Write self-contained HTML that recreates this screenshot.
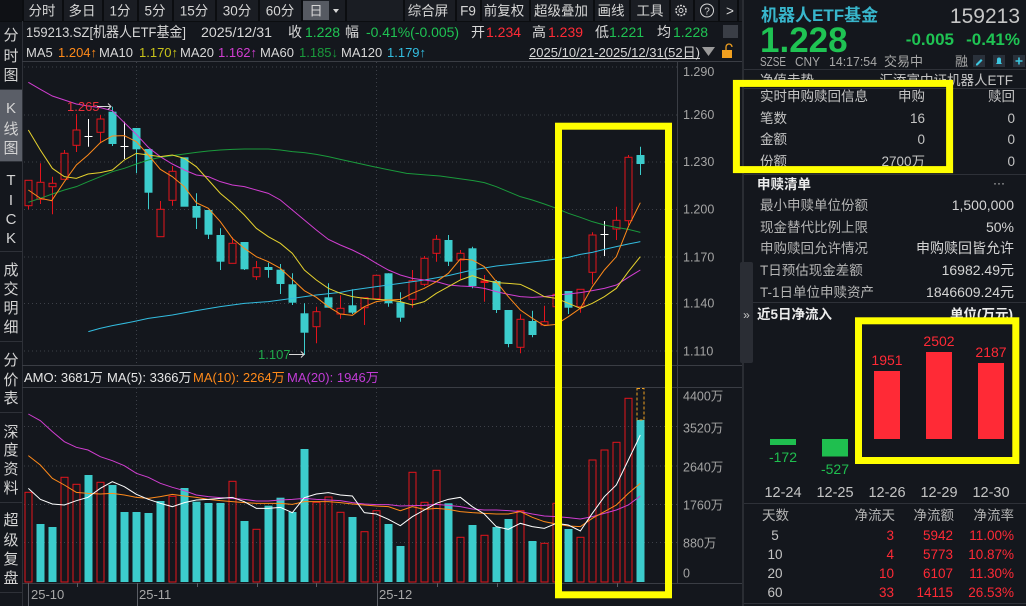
<!DOCTYPE html>
<html><head><meta charset="utf-8">
<style>
html,body{margin:0;padding:0;background:#14171d;width:1026px;height:606px;overflow:hidden}
svg{display:block}
text{font-family:"Liberation Sans","Noto Sans CJK SC",sans-serif;}
</style></head><body>
<svg width="1026" height="606" viewBox="0 0 1026 606" xmlns="http://www.w3.org/2000/svg">
<rect width="1026" height="606" fill="#14171d"/>

<!-- ===== Toolbar ===== -->
<rect x="0" y="0" width="742" height="21" fill="#1a1d23"/>
<rect x="0" y="0" width="22" height="21" fill="#0f1115"/>
<g fill="#0b0d10">
<rect x="22" y="0" width="2" height="21"/><rect x="62" y="0" width="2" height="21"/><rect x="102" y="0" width="2" height="21"/>
<rect x="137" y="0" width="2" height="21"/><rect x="172" y="0" width="2" height="21"/><rect x="215" y="0" width="2" height="21"/>
<rect x="258" y="0" width="2" height="21"/><rect x="301" y="0" width="2" height="21"/><rect x="345" y="0" width="2" height="21"/>
<rect x="403" y="0" width="2" height="21"/><rect x="455" y="0" width="2" height="21"/><rect x="480" y="0" width="2" height="21"/>
<rect x="529" y="0" width="2" height="21"/><rect x="593" y="0" width="2" height="21"/><rect x="629" y="0" width="2" height="21"/>
<rect x="669" y="0" width="2" height="21"/><rect x="693" y="0" width="2" height="21"/><rect x="718" y="0" width="2" height="21"/>
<rect x="737" y="0" width="2" height="21"/>
</g>
<rect x="303" y="1" width="26" height="19" fill="#565a62"/>
<rect x="0" y="21" width="742" height="1" fill="#0b0d10"/>
<g font-size="13.5" fill="#d6d6d6" text-anchor="middle">
<text x="42" y="15.5">分时</text><text x="82" y="15.5">多日</text><text x="120" y="15.5">1分</text>
<text x="155" y="15.5">5分</text><text x="194" y="15.5">15分</text><text x="237" y="15.5">30分</text>
<text x="280" y="15.5">60分</text><text x="316" y="15.5">日</text>
<text x="428" y="15.5">综合屏</text><text x="468" y="15.5">F9</text><text x="504" y="15.5">前复权</text>
<text x="561" y="15.5">超级叠加</text><text x="611" y="15.5">画线</text><text x="650" y="15.5">工具</text>
<text x="730" y="15.5">&gt;</text>
</g>
<path d="M333 9h6l-3 4z" fill="#d6d6d6"/>
<circle cx="681" cy="10.5" r="5" fill="none" stroke="#d6d6d6" stroke-width="1.5" stroke-dasharray="2 1.2"/>
<circle cx="681" cy="10.5" r="2" fill="none" stroke="#d6d6d6" stroke-width="1"/>
<circle cx="707" cy="10.5" r="6.5" fill="none" stroke="#d6d6d6" stroke-width="1"/>
<text x="707" y="14.5" font-size="10" fill="#d6d6d6" text-anchor="middle">?</text>

<!-- ===== Left sidebar ===== -->
<rect x="22" y="21" width="1" height="585" fill="#2e3138"/>
<rect x="0" y="90" width="22" height="71" fill="#5a5e67"/>
<g fill="#2e3138">
<rect x="0" y="89" width="22" height="1"/><rect x="0" y="161" width="22" height="1"/>
<rect x="0" y="251" width="22" height="1"/><rect x="0" y="341" width="22" height="1"/>
<rect x="0" y="412" width="22" height="1"/><rect x="0" y="502" width="22" height="1"/>
<rect x="0" y="592" width="22" height="1"/>
</g>
<g font-size="15" fill="#d4d4d4" text-anchor="middle">
<text x="11" y="40">分</text><text x="11" y="61">时</text><text x="11" y="80">图</text>
<text x="11" y="113">K</text><text x="11" y="134">线</text><text x="11" y="153">图</text>
<text x="11" y="185">T</text><text x="11" y="205">I</text><text x="11" y="224">C</text><text x="11" y="243">K</text>
<text x="11" y="275">成</text><text x="11" y="294">交</text><text x="11" y="313">明</text><text x="11" y="332">细</text>
<text x="11" y="365">分</text><text x="11" y="385">价</text><text x="11" y="403">表</text>
<text x="11" y="437">深</text><text x="11" y="455">度</text><text x="11" y="474">资</text><text x="11" y="493">料</text>
<text x="11" y="525">超</text><text x="11" y="545">级</text><text x="11" y="564">复</text><text x="11" y="583">盘</text>
</g>

<!-- ===== Info line ===== -->
<g font-size="14" fill="#d8d8d8">
<text x="26" y="37" textLength="160" lengthAdjust="spacingAndGlyphs">159213.SZ[机器人ETF基金]</text>
<text x="201" y="37" textLength="71" lengthAdjust="spacingAndGlyphs">2025/12/31</text>
<text x="288" y="37">收</text><text x="305" y="37" fill="#1fc353">1.228</text>
<text x="345" y="37">幅</text><text x="366" y="37" fill="#1fc353" textLength="93" lengthAdjust="spacingAndGlyphs">-0.41%(-0.005)</text>
<text x="471" y="37">开</text><text x="486" y="37" fill="#ff2b36">1.234</text>
<text x="532" y="37">高</text><text x="548" y="37" fill="#ff2b36">1.239</text>
<text x="595" y="37">低</text><text x="609" y="37" fill="#1fc353">1.221</text>
<text x="657" y="37">均</text><text x="673" y="37" fill="#1fc353">1.228</text>
</g>
<rect x="723" y="25" width="15" height="13" fill="#3a3e46"/>
<!-- MA line -->
<g font-size="13" fill="#d8d8d8">
<text x="26" y="57">MA5</text><text x="58" y="57" fill="#ff8a1a">1.204↑</text>
<text x="99" y="57">MA10</text><text x="139" y="57" fill="#c8c21a">1.170↑</text>
<text x="180" y="57">MA20</text><text x="218" y="57" fill="#d13ed1">1.162↑</text>
<text x="260" y="57">MA60</text><text x="299" y="57" fill="#1a9a3c">1.185↓</text>
<text x="341" y="57">MA120</text><text x="387" y="57" fill="#33bde0">1.179↑</text>
<text x="529" y="57" textLength="171" lengthAdjust="spacingAndGlyphs">2025/10/21-2025/12/31(52日)</text>
</g>
<rect x="529" y="58" width="171" height="1" fill="#d8d8d8"/>
<path d="M702 47h13l-6.5 9z" fill="#9a9a9a"/>
<rect x="722" y="50" width="10" height="8" fill="#f0a020"/>
<path d="M726 50v-3a3 3 0 0 1 6 0" fill="none" stroke="#f0a020" stroke-width="1.3"/>

<!-- ===== Chart frame ===== -->
<g fill="#3a3d44">
<rect x="22" y="61" width="721" height="1"/>
<rect x="22" y="365" width="721" height="1"/>
<rect x="22" y="387" width="721" height="1"/>
<rect x="22" y="583" width="721" height="1"/>
<rect x="677" y="61" width="1" height="522"/>
<rect x="742" y="0" width="2" height="606" fill="#2a2d33"/>
</g>
<!-- grid -->
<g stroke="#3d4048" stroke-width="1" stroke-dasharray="1 3">
<path d="M24 67H677M24 115H677M24 162H677M24 209.5H677M24 257H677M24 303.5H677M24 351H677"/>
<path d="M24 426.5H677M24 466H677M24 504.5H677M24 542.5H677"/>
<path d="M136.5 62V365M376.5 62V365M136.5 388V582M376.5 388V582"/>
</g>
<!-- price labels -->
<g font-size="12.5" fill="#a4a4a4">
<text x="683" y="76">1.290</text><text x="683" y="119">1.260</text><text x="683" y="166">1.230</text>
<text x="683" y="213.5">1.200</text><text x="683" y="261.5">1.170</text><text x="683" y="307.5">1.140</text>
<text x="683" y="355.5">1.110</text>
<text x="683" y="400.5">4400万</text><text x="683" y="432.5">3520万</text><text x="683" y="471.5">2640万</text>
<text x="683" y="509.5">1760万</text><text x="683" y="547.5">880万</text><text x="683" y="577.5">0</text>
</g>
<!-- x axis -->
<g stroke="#5a5d64" stroke-width="1">
<path d="M28.5 583V606M137.5 583V606M377.5 583V606M77.5 583V587M197.5 583V587M257.5 583V587M316.5 583V587M437.5 583V587M497.5 583V587M557.5 583V587M617.5 583V587"/>
</g>
<g font-size="13" fill="#a8a8a8">
<text x="31" y="599">25-10</text><text x="139" y="599">25-11</text><text x="379" y="599">25-12</text>
</g>

<!-- ===== Candles ===== -->
<g fill="#3ccccc">
<rect x="108.5" y="111.7" width="8" height="32.3"/><rect x="132.5" y="128" width="8" height="21.3"/>
<rect x="144.5" y="149" width="8" height="43.7"/><rect x="180.5" y="157.3" width="8" height="49.4"/>
<rect x="192.5" y="206" width="8" height="11.7"/><rect x="204.5" y="210" width="8" height="24.7"/>
<rect x="216.5" y="235" width="8" height="26.7"/><rect x="240.5" y="242" width="8" height="27.3"/>
<rect x="264.5" y="267" width="8" height="3"/><rect x="276.5" y="269.7" width="8" height="14.3"/>
<rect x="288.5" y="284.3" width="8" height="18.4"/><rect x="300.5" y="313.3" width="8" height="19.4"/>
<rect x="324.5" y="297.3" width="8" height="10.4"/><rect x="348.5" y="305.3" width="8" height="7.4"/>
<rect x="384.5" y="273.3" width="8" height="30"/><rect x="396.5" y="302.3" width="8" height="15.4"/>
<rect x="444.5" y="240" width="8" height="21.7"/><rect x="468.5" y="248.3" width="8" height="37.7"/>
<rect x="492.5" y="281" width="8" height="29"/><rect x="504.5" y="310" width="8" height="34"/>
<rect x="528.5" y="321" width="8" height="14"/><rect x="564.5" y="291" width="8" height="16.7"/>
<rect x="636.5" y="155" width="8" height="9"/>
</g>
<path stroke="#3ccccc" stroke-width="1" fill="none" d="M112.5 106.7V146M136.5 128V173.3M148.5 149V209M196.5 193.3V229M208.5 210V239M220.5 228.3V270M244.5 242V270M268.5 262.7V277.7M280.5 264V294M292.5 273.3V305M304.5 303.3V355M328.5 283.3V307.7M352.5 289.3V314M388.5 273.3V306.7M400.5 292.3V321.7M448.5 235V266M472.5 246.7V288.3M496.5 280V313M508.5 310V347.3M532.5 310.7V337.3M568.5 291V314M640.5 146.7V175"/>
<g fill="#14171d" stroke="#e3141c" stroke-width="1">
<rect x="25" y="180.3" width="7" height="25.4"/><rect x="37" y="182.3" width="7" height="17"/>
<rect x="49" y="183.3" width="7" height="3.4"/><rect x="61" y="153.3" width="7" height="26"/>
<rect x="73" y="130" width="7" height="15.3"/><rect x="97" y="119" width="7" height="13.3"/>
<rect x="157" y="209.3" width="7" height="27.4"/><rect x="169" y="171.3" width="7" height="29"/>
<rect x="229" y="243.3" width="7" height="20"/><rect x="253" y="267.7" width="7" height="9"/>
<rect x="313" y="311.7" width="7" height="15"/><rect x="337" y="308.3" width="7" height="5.7"/>
<rect x="361" y="297.7" width="7" height="10"/><rect x="373" y="275.3" width="7" height="23.4"/>
<rect x="409" y="280.7" width="7" height="18.6"/><rect x="421" y="258.3" width="7" height="26"/>
<rect x="433" y="239.3" width="7" height="14"/><rect x="457" y="253.3" width="7" height="6.7"/>
<rect x="517" y="319.3" width="7" height="28"/><rect x="541" y="321.7" width="7" height="3.3"/>
<rect x="553" y="294.3" width="7" height="12.4"/><rect x="577" y="289.3" width="7" height="17.4"/>
<rect x="589" y="235" width="7" height="37.3"/><rect x="613" y="220.3" width="7" height="8.7"/>
<rect x="625" y="157.3" width="7" height="63.4"/>
<path fill="none" d="M28.5 205.7V209.3M40.5 163.3V182.3M40.5 199.3V204M52.5 176.7V183.3M52.5 186.7V214.3M64.5 150V153.3M76.5 114V130M76.5 145.3V152M100.5 115V119M100.5 132.3V143.3M160.5 201V209.3M172.5 166V171.3M172.5 200.3V205.7M232.5 237.3V243.3M256.5 261V267.7M256.5 276.7V280M316.5 306.7V311.7M316.5 326.7V343.3M340.5 295.3V308.3M340.5 314V318.7M364.5 307.7V325M412.5 270V280.7M412.5 299.3V307.7M424.5 256V258.3M424.5 284.3V286M436.5 235V239.3M436.5 253.3V261.7M460.5 250V253.3M460.5 260V279.3M520.5 314.3V319.3M520.5 347.3V353.3M544.5 305.7V321.7M580.5 306.7V312.7M592.5 232.3V235M592.5 272.3V284.3M616.5 206.7V220.3M616.5 229V240M628.5 155V157.3M628.5 220.7V225M484.5 275V301.7"/>
</g>
<rect x="480.5" y="280.5" width="8" height="2.5" fill="#e3141c"/>
<path stroke="#ffffff" stroke-width="1" fill="none" d="M88.5 119V146.7M84.5 136.5H92.5M124.5 121.7V159M120.5 146.5H128.5M604.5 221V256M600.5 234.5H608.5"/>

<!-- MA lines in price pane (zoom frame) -->
<g transform="translate(0,40) scale(0.333333)" fill="none" stroke-width="1">
<path vector-effect="non-scaling-stroke" stroke="#1a9a3c" d="M85,487 L121,475 L157,462 L193,450 L229,440 L264,425 L301,410 L337,395 L373,385 L409,372 L445,360 L481,352 L517,347 L553,342 L589,337 L625,333 L661,330 L697,328 L733,327 L769,327 L805,327 L841,330 L877,335 L913,338 L949,343 L985,350 L1021,358 L1057,366 L1120,380 L1220,400 L1280,405 L1320,408 L1420,422 L1453,428 L1489,440 L1525,455 L1561,470 L1597,480 L1633,492 L1669,505 L1705,520 L1741,532 L1777,545 L1813,555 L1849,562 L1885,568 L1921,577"/>
<path vector-effect="non-scaling-stroke" stroke="#33bde0" d="M265,875 L300,865 L337,857 L400,845 L445,835 L517,825 L589,812 L661,800 L733,790 L805,785 L877,775 L949,765 L1021,757 L1057,750 L1129,740 L1201,730 L1273,720 L1345,707 L1417,690 L1489,678 L1561,670 L1633,662 L1705,652 L1741,643 L1777,637 L1813,628 L1849,620 L1885,612 L1921,605"/>
<path vector-effect="non-scaling-stroke" stroke="#d13ed1" d="M85,127 L121,148 L157,168 L193,180 L229,192 L264,198 L301,203 L337,212 L373,248 L409,283 L445,322 L481,350 L517,372 L553,390 L589,405 L625,410 L661,425 L697,435 L733,440 L769,450 L805,460 L841,480 L877,510 L913,540 L949,570 L985,598 L1021,615 L1057,630 L1093,648 L1129,670 L1165,690 L1201,705 L1237,715 L1273,720 L1309,725 L1345,735 L1381,738 L1417,740 L1453,745 L1489,755 L1525,763 L1561,770 L1597,772 L1633,770 L1669,765 L1705,762 L1741,758 L1777,752 L1813,745 L1849,735 L1885,712 L1921,690"/>
<path vector-effect="non-scaling-stroke" stroke="#e6d22e" d="M85,270 L121,330 L157,385 L193,410 L229,415 L264,402 L301,398 L337,390 L373,360 L409,340 L445,345 L481,350 L517,345 L553,355 L589,380 L625,420 L661,460 L697,490 L733,525 L769,565 L805,590 L841,610 L877,640 L913,690 L949,720 L985,745 L1021,760 L1057,770 L1093,775 L1129,778 L1165,780 L1201,785 L1237,795 L1273,785 L1309,760 L1345,740 L1381,720 L1417,707 L1453,720 L1489,728 L1525,730 L1561,733 L1597,750 L1633,770 L1669,775 L1705,790 L1741,805 L1777,790 L1813,770 L1849,745 L1885,695 L1921,650"/>
<path vector-effect="non-scaling-stroke" stroke="#ff8a1a" d="M85,450 L121,475 L155,482 L193,425 L229,375 L264,345 L301,308 L337,288 L373,287 L409,305 L445,345 L481,388 L517,410 L553,440 L589,488 L625,505 L661,545 L697,595 L733,625 L769,650 L805,665 L841,685 L877,718 L913,752 L949,772 L985,800 L1021,822 L1057,826 L1093,800 L1129,785 L1165,780 L1201,778 L1237,760 L1273,745 L1309,725 L1345,700 L1381,657 L1417,660 L1453,680 L1489,725 L1525,770 L1561,810 L1597,835 L1633,857 L1669,853 L1705,830 L1741,805 L1777,740 L1813,690 L1849,650 L1885,560 L1921,488"/>
</g>
<!-- hi/lo marks -->
<text x="67" y="111" font-size="13" fill="#e8303a">1.265</text>
<path d="M97 106.5H111M108 103.5L111 106.5L108 109.5" stroke="#d8d8d8" fill="none" stroke-width="1"/>
<text x="258" y="359" font-size="13" fill="#1fa84a">1.107</text>
<path d="M289 354.5H304M301 351.5L304 354.5L301 357.5" stroke="#d8d8d8" fill="none" stroke-width="1"/>

<!-- ===== Volume ===== -->
<g font-size="13" fill="#e6e6e6">
<text x="24" y="382">AMO: 3681万</text><text x="107" y="382">MA(5): 3366万</text>
<text x="193" y="382" fill="#ff8a1a">MA(10): 2264万</text><text x="287" y="382" fill="#c23cd6">MA(20): 1946万</text>
</g>
<g fill="#3ccccc">
<rect x="36.5" y="524" width="8" height="58"/><rect x="48.5" y="527" width="8" height="55"/>
<rect x="84.5" y="475" width="8" height="107"/><rect x="108.5" y="485" width="8" height="97"/>
<rect x="120.5" y="512" width="8" height="70"/><rect x="132.5" y="512" width="8" height="70"/>
<rect x="144.5" y="513" width="8" height="69"/><rect x="156.5" y="501" width="8" height="81"/>
<rect x="180.5" y="488" width="8" height="94"/><rect x="192.5" y="501.7" width="8" height="80.3"/>
<rect x="204.5" y="503" width="8" height="79"/><rect x="216.5" y="503" width="8" height="79"/>
<rect x="240.5" y="521" width="8" height="61"/><rect x="264.5" y="505.7" width="8" height="76.3"/>
<rect x="276.5" y="497.7" width="8" height="84.3"/><rect x="288.5" y="512" width="8" height="70"/>
<rect x="300.5" y="449" width="8" height="133"/><rect x="348.5" y="517" width="8" height="65"/>
<rect x="384.5" y="524" width="8" height="58"/><rect x="396.5" y="546" width="8" height="36"/>
<rect x="444.5" y="503.3" width="8" height="78.7"/><rect x="468.5" y="525" width="8" height="57"/>
<rect x="492.5" y="527" width="8" height="55"/><rect x="504.5" y="519" width="8" height="63"/>
<rect x="528.5" y="541" width="8" height="41"/><rect x="564.5" y="529" width="8" height="53"/>
<rect x="636.5" y="420" width="8" height="162"/>
</g>
<g fill="none" stroke="#e3141c" stroke-width="1">
<rect x="25" y="492.3" width="7" height="89.7"/><rect x="61" y="477.3" width="7" height="104.7"/>
<rect x="73" y="484.3" width="7" height="97.7"/><rect x="97" y="482.3" width="7" height="99.7"/>
<rect x="169" y="496.3" width="7" height="85.7"/><rect x="229" y="481.3" width="7" height="100.7"/>
<rect x="253" y="529.3" width="7" height="52.7"/><rect x="313" y="502.3" width="7" height="79.7"/>
<rect x="325" y="497" width="7" height="85"/><rect x="337" y="512.3" width="7" height="69.7"/>
<rect x="361" y="531.7" width="7" height="50.3"/><rect x="373" y="510.7" width="7" height="71.3"/>
<rect x="409" y="472.3" width="7" height="109.7"/><rect x="421" y="502.3" width="7" height="79.7"/>
<rect x="433" y="470.3" width="7" height="111.7"/><rect x="457" y="537.3" width="7" height="44.7"/>
<rect x="481" y="535.3" width="7" height="46.7"/><rect x="517" y="510.7" width="7" height="71.3"/>
<rect x="541" y="543.3" width="7" height="38.7"/><rect x="553" y="503.3" width="7" height="78.7"/>
<rect x="577" y="537.3" width="7" height="44.7"/><rect x="589" y="460" width="7" height="122"/>
<rect x="601" y="450" width="7" height="132"/><rect x="613" y="442.3" width="7" height="139.7"/>
<rect x="625" y="398.3" width="7" height="183.7"/>
</g>
<rect x="637" y="388.5" width="7" height="31.5" fill="none" stroke="#f0a020" stroke-width="1" stroke-dasharray="3 2"/>
<g transform="translate(0,360) scale(0.333333)" fill="none">
<path vector-effect="non-scaling-stroke" stroke="#d13ed1" stroke-width="1" d="M85,162 L121,182 L157,215 L193,245 L229,262 L264,270 L301,290 L337,302 L373,317 L409,340 L445,352 L481,370 L517,382 L553,392 L589,405 L625,410 L661,413 L697,415 L733,418 L769,423 L805,423 L841,420 L877,418 L913,415 L949,418 L985,420 L1021,422 L1057,428 L1093,432 L1129,434 L1165,434 L1201,438 L1237,437 L1273,436 L1309,433 L1345,436 L1381,440 L1417,447 L1453,450 L1489,450 L1525,452 L1561,455 L1597,462 L1633,468 L1669,470 L1705,473 L1741,477 L1777,470 L1813,460 L1849,450 L1885,435 L1921,408"/>
<path vector-effect="non-scaling-stroke" stroke="#ff8a1a" stroke-width="1" d="M85,287 L121,315 L157,355 L193,375 L229,397 L264,400 L301,402 L337,400 L373,405 L409,412 L445,415 L481,410 L517,403 L553,408 L589,412 L625,418 L661,422 L697,425 L733,428 L769,430 L805,430 L841,430 L877,433 L913,425 L949,425 L985,425 L1021,428 L1057,432 L1093,435 L1129,438 L1165,440 L1201,452 L1237,440 L1273,448 L1309,445 L1345,448 L1381,455 L1417,458 L1453,460 L1489,462 L1525,462 L1561,455 L1597,472 L1633,485 L1669,492 L1705,498 L1741,500 L1777,475 L1813,455 L1849,435 L1885,400 L1921,370"/>
<path vector-effect="non-scaling-stroke" stroke="#ffffff" stroke-width="1" d="M85,385 L121,418 L157,432 L193,435 L229,422 L264,412 L301,385 L337,365 L373,380 L409,403 L445,418 L481,430 L517,440 L553,428 L589,420 L625,418 L661,415 L697,412 L733,425 L769,445 L805,445 L841,442 L877,458 L913,413 L949,402 L985,398 L1021,405 L1057,408 L1093,458 L1129,462 L1165,478 L1201,497 L1237,470 L1273,450 L1309,430 L1345,418 L1381,412 L1417,440 L1453,462 L1489,500 L1525,508 L1561,490 L1597,500 L1633,505 L1669,490 L1705,495 L1741,513 L1777,460 L1813,410 L1849,375 L1885,300 L1921,225"/>
</g>

<!-- ===== Right panel ===== -->
<text x="761" y="21" font-size="17" font-weight="bold" fill="#38b6cc">机器人ETF基金</text>
<text x="1020" y="23" font-size="21" fill="#c6c6c6" text-anchor="end">159213</text>
<text x="760" y="52" font-size="35" font-weight="bold" fill="#1fc353">1.228</text>
<text x="954" y="45" font-size="17" font-weight="bold" fill="#1fc353" text-anchor="end">-0.005</text>
<text x="1020" y="45" font-size="17" font-weight="bold" fill="#1fc353" text-anchor="end">-0.41%</text>
<g font-size="13" fill="#a8a8a8">
<text x="760" y="66" textLength="26" lengthAdjust="spacingAndGlyphs">SZSE</text>
<text x="795" y="66" textLength="25" lengthAdjust="spacingAndGlyphs">CNY</text>
<text x="829" y="66" textLength="48" lengthAdjust="spacingAndGlyphs">14:17:54</text>
<text x="884" y="66">交易中</text>
<text x="955" y="66">融</text>
</g>
<rect x="973" y="55" width="12" height="12" fill="#2a313b"/>
<path d="M976 64l5-5 1.5 1.5-5 5h-1.5z" fill="#3cc7e0"/>
<rect x="993" y="55" width="12" height="12" fill="#2a313b"/>
<path d="M996 64h6l-1-1.5v-3a2 2 0 0 0-4 0v3z" fill="#3cc7e0"/>
<rect x="1013" y="55" width="12" height="12" fill="#2a313b"/>
<path d="M1019 57.5v7M1015.5 61h7" stroke="#3cc7e0" stroke-width="1.6"/>
<g fill="#2e3138">
<rect x="744" y="69" width="282" height="1"/>
<rect x="744" y="88" width="282" height="1"/>
<rect x="744" y="174" width="282" height="1"/>
<rect x="744" y="302" width="282" height="1"/>
<rect x="744" y="503" width="282" height="1"/>
<rect x="744" y="603" width="282" height="1"/>
</g>
<g font-size="13.5" fill="#c4c4c4">
<text x="760" y="85">净值走势</text><text x="1013" y="85" text-anchor="end">汇添富中证机器人ETF</text>
<text x="760" y="101">实时申购赎回信息</text><text x="925" y="101" text-anchor="end">申购</text><text x="1015" y="101" text-anchor="end">赎回</text>
<text x="760" y="123">笔数</text><text x="925" y="123" text-anchor="end">16</text><text x="1015" y="123" text-anchor="end">0</text>
<text x="760" y="144">金额</text><text x="925" y="144" text-anchor="end">0</text><text x="1015" y="144" text-anchor="end">0</text>
<text x="760" y="166">份额</text><text x="925" y="166" text-anchor="end">2700万</text><text x="1015" y="166" text-anchor="end">0</text>
</g>
<text x="757" y="189" font-size="13.5" font-weight="bold" fill="#ececec">申赎清单</text>
<text x="1005" y="187" font-size="12" fill="#d0d0d0" text-anchor="end">···</text>
<g font-size="13.5" fill="#b4b4b4">
<text x="760" y="210">最小申赎单位份额</text><text x="760" y="232">现金替代比例上限</text>
<text x="760" y="253">申购赎回允许情况</text><text x="760" y="275">T日预估现金差额</text>
<text x="760" y="297">T-1日单位申赎资产</text>
</g>
<g font-size="14" fill="#d4d4d4" text-anchor="end">
<text x="1014" y="210">1,500,000</text><text x="1014" y="232">50%</text>
<text x="1014" y="253">申购赎回皆允许</text><text x="1014" y="275">16982.49元</text>
<text x="1014" y="297">1846609.24元</text>
</g>
<rect x="740" y="262" width="13" height="101" rx="2" fill="#2a2d34"/>
<text x="746.5" y="319" font-size="12" fill="#c8c8c8" text-anchor="middle">»</text>
<text x="757" y="319" font-size="13.5" font-weight="bold" fill="#ececec">近5日净流入</text>
<text x="1013" y="319" font-size="13.5" font-weight="bold" fill="#ececec" text-anchor="end">单位(万元)</text>
<!-- 5-day bars -->
<rect x="770" y="439" width="26" height="6" fill="#1fbf4f"/>
<rect x="822" y="439" width="26" height="17.5" fill="#1fbf4f"/>
<rect x="874" y="371" width="26" height="68" fill="#ff2a36"/>
<rect x="926" y="352" width="26" height="87" fill="#ff2a36"/>
<rect x="978" y="363" width="26" height="76" fill="#ff2a36"/>
<g font-size="14" text-anchor="middle">
<text x="783" y="462" fill="#1fbf4f">-172</text><text x="835" y="474" fill="#1fbf4f">-527</text>
<text x="887" y="365" fill="#ff2a36">1951</text><text x="939" y="346" fill="#ff2a36">2502</text><text x="991" y="357" fill="#ff2a36">2187</text>
</g>
<g font-size="14.5" fill="#c4c4c4" text-anchor="middle">
<text x="783" y="497">12-24</text><text x="835" y="497">12-25</text><text x="887" y="497">12-26</text>
<text x="939" y="497">12-29</text><text x="991" y="497">12-30</text>
</g>
<g font-size="13.5" fill="#b4b4b4">
<text x="762" y="520">天数</text>
<text x="895" y="520" text-anchor="end">净流天</text><text x="954" y="520" text-anchor="end">净流额</text><text x="1014" y="520" text-anchor="end">净流率</text>
</g>
<g font-size="13.5" fill="#c4c4c4" text-anchor="middle">
<text x="775" y="540">5</text><text x="775" y="559">10</text><text x="775" y="578">20</text><text x="775" y="597">60</text>
</g>
<g font-size="13.5" fill="#ff2a36" text-anchor="end">
<text x="894" y="540">3</text><text x="953" y="540">5942</text><text x="1014" y="540">11.00%</text>
<text x="894" y="559">4</text><text x="953" y="559">5773</text><text x="1014" y="559">10.87%</text>
<text x="894" y="578">10</text><text x="953" y="578">6107</text><text x="1014" y="578">11.30%</text>
<text x="894" y="597">33</text><text x="953" y="597">14115</text><text x="1014" y="597">26.53%</text>
</g>

<!-- ===== Yellow highlight boxes ===== -->
<g fill="none" stroke="#ffff00" stroke-width="7">
<rect x="558.5" y="126.2" width="110" height="468.6"/>
<rect x="736.4" y="83.4" width="213.2" height="86.2"/>
<rect x="858.5" y="320.8" width="157.3" height="139.7"/>
</g>
</svg>
</body></html>
